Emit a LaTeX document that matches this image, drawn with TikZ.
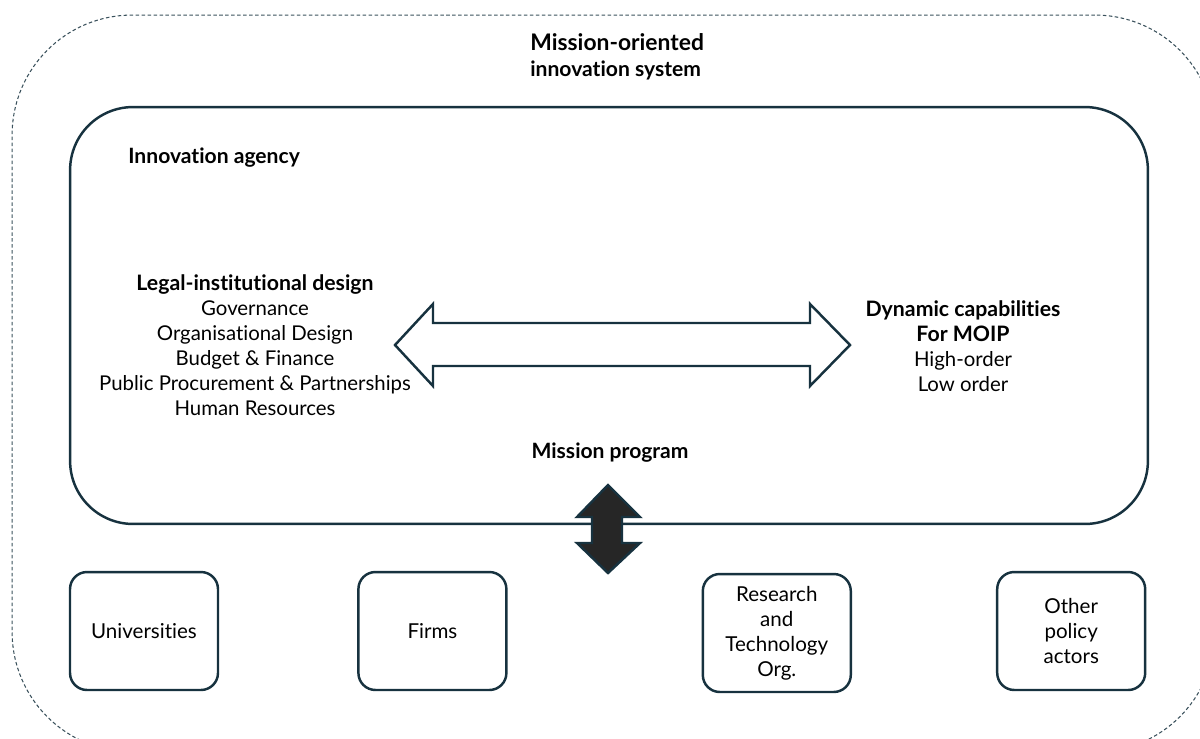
\documentclass[tikz,border=0pt]{standalone}
\usepackage{fontspec}
\setmainfont{Lato}[Ligatures = NoCommon]
\usetikzlibrary{positioning}
\definecolor{MOINavy}{HTML}{17323F}
\definecolor{MOIDark}{HTML}{262626}

\begin{document}
\begin{tikzpicture}[x = 0.02cm, y = -0.02cm, node distance = 2.8cm]%
    %
    \tikzstyle{system} = [rectangle, draw = MOINavy!85, dash pattern = on 2pt off 1.4pt, line width = 0.6pt, rounded corners = 2.4cm, minimum width = 24.06cm, minimum height = 14.74cm]%
    \tikzstyle{agency} = [rectangle, draw = MOINavy, line width = 1.4pt, rounded corners = 1.26cm, minimum width = 21.56cm, minimum height = 8.34cm]%
    \tikzstyle{actor} = [rectangle, draw = MOINavy, line width = 1.4pt, rounded corners = 0.34cm, minimum width = 2.96cm, minimum height = 2.36cm, align = center, font = \fontsize{11.7}{14.2}\selectfont]%
    \tikzstyle{heading} = [inner sep = 0pt, font = \fontsize{12}{14.2}\selectfont\bfseries]%
    \tikzstyle{listing} = [align = center, inner sep = 0pt, font = \fontsize{11.6}{14.2}\selectfont]%
    \tikzstyle{blockarrow} = [draw = MOINavy, line width = 1.4pt, line join = miter]%
    \newcommand{\bighead}[1]{{\fontsize{12.1}{14.2}\selectfont\bfseries #1}}%
    %
    \useasboundingbox (0, 0) rectangle (1200, 738);%
    \clip (0, 0) rectangle (1200, 738);%
    %
    \node [system] (system) at (613.5, 383.5) {};%
    \node [agency] (agency) at (609, 315.5) {};%
    %
    \node [heading, anchor = base west, font = \fontsize{13}{16}\selectfont\bfseries] (title) at (530, 50) {Mission-oriented};%
    \node [heading, anchor = base west] (subtitle) at (530, 76) {innovation system};%
    \node [heading, anchor = base west] (agency-label) at (128, 163) {Innovation agency};%
    %
    \node [listing] (legal) at (255, 345) {\bighead{Legal-institutional design}\\Governance\\Organisational Design\\Budget \& Finance\\Public Procurement \& Partnerships\\Human Resources};%
    \node [listing] (dynamic) at (963, 346) {\bighead{Dynamic capabilities}\\\bighead{For MOIP}\\High-order\\Low order};%
    \node [heading, anchor = base] (program) at (610, 458) {Mission program};%
    %
    \node [actor] (universities) at (144, 631) {Universities};%
    \node [actor, right = 2.76cm of universities] (firms) {Firms};%
    \node [actor, right = 3.88cm of firms, yshift = -0.04cm] (rto) {Research\\and\\Technology\\Org.};%
    \node [actor, right = 2.88cm of rto, yshift = 0.04cm] (others) {Other\\policy\\actors};%
    %
    % two-way link between design and capabilities
    \path [blockarrow, fill = white] (395, 345) -- (433, 304) -- (433, 323) -- (810, 323) -- (810, 304) -- (850, 345) -- (810, 386) -- (810, 366) -- (433, 366) -- (433, 386) -- cycle;%
    %
    % two-way link between agency and actors
    \path [blockarrow, fill = MOIDark] (608, 485) -- (640, 517) -- (622, 517) -- (622, 543) -- (640, 543) -- (608, 573) -- (577, 543) -- (592, 543) -- (592, 517) -- (577, 517) -- cycle;%
    %
\end{tikzpicture}
\end{document}
